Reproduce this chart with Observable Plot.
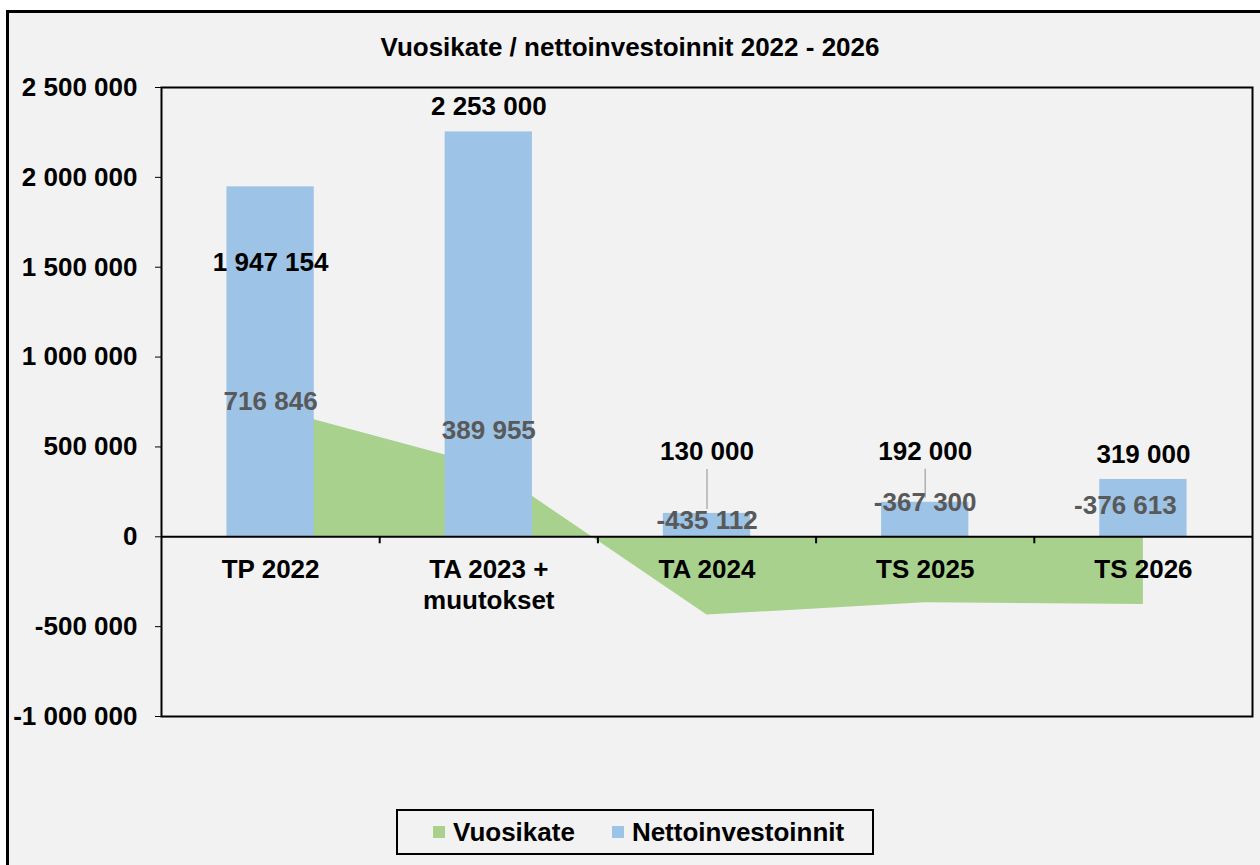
<!DOCTYPE html>
<html>
<head>
<meta charset="utf-8">
<script src="https://cdn.jsdelivr.net/npm/d3@7"></script>
<script src="https://cdn.jsdelivr.net/npm/@observablehq/plot@0.6"></script>
<style>
  html, body { margin: 0; padding: 0; background: #ffffff; }
  body { width: 1260px; height: 865px; position: relative; overflow: hidden;
         font-family: "Liberation Sans", Arial, sans-serif; }
  #bg { position: absolute; left: 6px; top: 10px; width: 1260px; height: 870px;
        background: #f2f2f2; border: 3px solid #000; box-sizing: border-box; }
  #title { position: absolute; left: 0; width: 1260px; top: 31px; text-align: center;
           font-weight: bold; font-size: 26px; line-height: 32px; color: #000; }
  #chart { position: absolute; left: 0; top: 0; }
  #legend { position: absolute; left: 396px; top: 809px; width: 478px; height: 46px;
            border: 2px solid #000; box-sizing: border-box; display: flex;
            align-items: center; font-weight: bold; font-size: 26px; color: #000; }
  .sw { display: inline-block; width: 12px; height: 12px; margin-right: 8px; }
</style>
</head>
<body>
<div id="bg"></div>
<div id="title">Vuosikate / nettoinvestoinnit 2022 - 2026</div>
<div id="chart"></div>
<div id="legend">
  <span class="sw" style="background:#A9D18E;margin-left:35px"></span><span>Vuosikate</span>
  <span class="sw" style="background:#9DC3E6;margin-left:37px"></span><span>Nettoinvestoinnit</span>
</div>
<script>
const categories = ["TP 2022", "TA 2023 +\nmuutokset", "TA 2024", "TS 2025", "TS 2026"];
const vuosikate = [716846, 389955, -435112, -367300, -376613];
const nettoinvestoinnit = [1947154, 2253000, 130000, 192000, 319000];
const yTicks = [-1000000, -500000, 0, 500000, 1000000, 1500000, 2000000, 2500000];

// label placement (pixels), mimicking the original layout
const barLabelDy = [76, -25, -62, -51, -25];
const areaLabelDy = [-6, -36, -94, -100, -99];
const areaLabelDx = [0, 0, 0, 0, -18];
const leaderIdx = [2, 3];

const loc = d3.formatLocale({thousands: " ", grouping: [3], decimal: ",", minus: "-", currency: ["", ""]});
const fmt = loc.format(",d");

const rows = categories.map((c, i) => ({i, cat: c, vk: vuosikate[i], ni: nettoinvestoinnit[i]}));
const font = {fontFamily: "Liberation Sans, Arial, sans-serif", fontWeight: "bold", fontSize: 26};

const W = 1260, H = 865;
const mTop = 87, mBottom = 149, mLeft = 161, mRight = 8;

const marks = [
  Plot.areaY(rows, {x: "i", y: "vk", fill: "#A9D18E"}),
  Plot.rectY(rows, {x1: d => d.i - 0.2, x2: d => d.i + 0.2, y1: 0, y2: "ni", fill: "#9DC3E6"}),
  Plot.ruleY([0], {stroke: "#000", strokeWidth: 2}),
  Plot.ruleX(categories.slice(1).map((c, k) => k + 0.5), {x: d => d, y1: 0, y2: 0, insetBottom: -7, stroke: "#000", strokeWidth: 2}),
];
// leader lines
leaderIdx.forEach(k => {
  const r = rows[k];
  marks.push(Plot.ruleX([r], {x: "i", y1: "ni", y2: "ni", insetTop: -4, insetBottom: -(barLabelDy[k] + 18),
    stroke: "#a6a6a6", strokeWidth: 1.3}));
});
rows.forEach((r, k) => {
  marks.push(Plot.text([r], {x: "i", y: "ni", text: d => fmt(d.ni), dy: barLabelDy[k], fill: "#000", ...font}));
  marks.push(Plot.text([r], {x: "i", y: "vk", text: d => fmt(d.vk), dy: areaLabelDy[k], dx: areaLabelDx[k], fill: "#595959", ...font}));
});
marks.push(Plot.text(rows, {x: "i", y: 0, text: "cat", lineAnchor: "top", dy: 18, lineHeight: 1.23, fill: "#000", ...font}));
marks.push(Plot.frame({stroke: "#000", strokeWidth: 2}));

const chart = Plot.plot({
  width: W, height: H,
  marginTop: mTop, marginBottom: mBottom, marginLeft: mLeft, marginRight: mRight,
  style: {background: "transparent", color: "#000", fontFamily: "Liberation Sans, Arial, sans-serif", fontWeight: "bold", fontSize: "26px", overflow: "visible"},
  x: {type: "linear", domain: [-0.5, 4.5], axis: null},
  y: {domain: [-1000000, 2500000], ticks: yTicks, tickFormat: fmt, tickSize: 6, tickPadding: 18, label: null, line: false},
  marks
});
document.getElementById("chart").appendChild(chart);
</script>
</body>
</html>
